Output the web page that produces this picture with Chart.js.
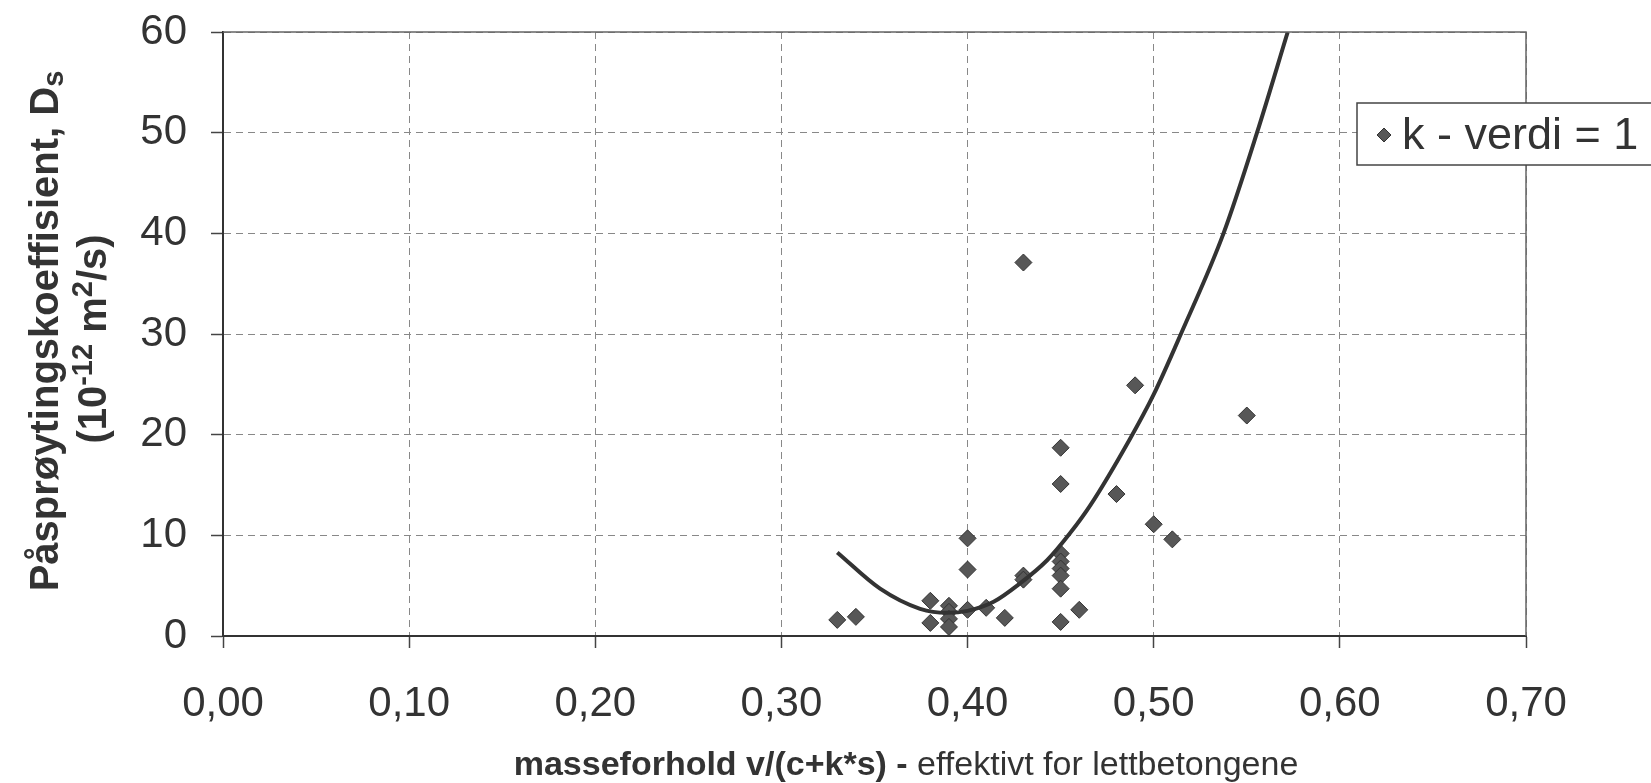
<!DOCTYPE html>
<html>
<head>
<meta charset="utf-8">
<script src="https://cdn.jsdelivr.net/npm/chart.js@4.4.0/dist/chart.umd.min.js"></script>
<style>
  html, body { margin: 0; padding: 0; background: #fff; }
  #wrap { width: 1651px; height: 783px; }
</style>
</head>
<body>
<div id="wrap"><canvas id="chart"></canvas></div>
<script>
// measured points, k = 1
const wcRatio = [0.33, 0.34, 0.38, 0.38, 0.39, 0.39, 0.39, 0.39, 0.40, 0.40, 0.40, 0.41, 0.42, 0.43, 0.43, 0.43,
                 0.45, 0.45, 0.45, 0.45, 0.45, 0.45, 0.45, 0.45, 0.46, 0.48, 0.49, 0.50, 0.51, 0.55];
const diffCoef = [1.6, 1.9, 3.5, 1.3, 3.0, 2.4, 1.7, 0.9, 9.7, 6.6, 2.6, 2.8, 1.8, 6.0, 5.6, 37.1,
                  18.7, 15.1, 8.2, 7.4, 6.7, 6.0, 4.7, 1.4, 2.6, 14.1, 24.9, 11.1, 9.6, 21.9];

// trend line
const trendRatio = [0.330, 0.353, 0.3745, 0.389, 0.400, 0.414, 0.428, 0.4426, 0.455, 0.466, 0.487, 0.500, 0.5146, 0.5375, 0.5555, 0.572];
const trendCoef  = [8.3, 4.7, 2.7, 2.3, 2.5, 3.4, 5.2, 7.5, 10.2, 13.0, 19.5, 24.0, 30.0, 40.0, 50.0, 60.0];

const seriesLabel = 'k - verdi = 1';
const xMin = 0, xMax = 0.7, xStep = 0.1;
const yMin = 0, yMax = 60, yStep = 10;

const FONT = "'Liberation Sans', Arial, Helvetica, sans-serif";
const TEXT = '#333';

const scatterPts = wcRatio.map((x, i) => ({ x: x, y: diffCoef[i] }));
const trendPts = trendRatio.map((x, i) => ({ x: x, y: trendCoef[i] }));

// draw a line of text made of runs (for sub/superscripts), centred at 0,0
function drawRuns(ctx, runs) {
    let total = 0;
    runs.forEach(r => {
        ctx.font = r.font;
        r.w = ctx.measureText(r.text).width;
        total += r.w;
    });
    let x = -total / 2;
    ctx.textAlign = 'left';
    ctx.textBaseline = 'alphabetic';
    runs.forEach(r => {
        ctx.font = r.font;
        ctx.fillText(r.text, x, r.dy || 0);
        x += r.w;
    });
}

const decorPlugin = {
    id: 'decor',
    afterDraw(chart) {
        const ctx = chart.ctx;
        const a = chart.chartArea;

        // plot frame, top and right
        ctx.save();
        ctx.strokeStyle = '#666';
        ctx.lineWidth = 1.5;
        ctx.beginPath();
        ctx.moveTo(a.left, a.top);
        ctx.lineTo(a.right, a.top);
        ctx.lineTo(a.right, a.bottom);
        ctx.stroke();
        ctx.restore();

        // y title
        const b = 'bold 40px ' + FONT;
        const bs = 'bold 29px ' + FONT;
        ctx.save();
        ctx.fillStyle = TEXT;
        ctx.translate(58, 331);
        ctx.rotate(-Math.PI / 2);
        drawRuns(ctx, [
            { text: 'Påsprøytingskoeffisient, D', font: b },
            { text: 's', font: bs, dy: 5 }
        ]);
        ctx.restore();

        ctx.save();
        ctx.fillStyle = TEXT;
        ctx.translate(106, 339);
        ctx.rotate(-Math.PI / 2);
        drawRuns(ctx, [
            { text: '(10', font: b },
            { text: '-12', font: bs, dy: -14 },
            { text: ' m', font: b },
            { text: '2', font: bs, dy: -14 },
            { text: '/s)', font: b }
        ]);
        ctx.restore();

        // x title
        ctx.save();
        ctx.fillStyle = TEXT;
        ctx.translate(906, 775);
        drawRuns(ctx, [
            { text: 'masseforhold v/(c+k*s) - ', font: 'bold 34px ' + FONT },
            { text: 'effektivt for lettbetongene', font: '34px ' + FONT }
        ]);
        ctx.restore();

        // legend box
        const ds = chart.data.datasets[1];
        ctx.save();
        ctx.fillStyle = '#fff';
        ctx.strokeStyle = '#444';
        ctx.lineWidth = 1.5;
        ctx.fillRect(1357, 103, 310, 62);
        ctx.strokeRect(1357, 103, 310, 62);
        ctx.fillStyle = ds.backgroundColor;
        ctx.strokeStyle = ds.borderColor;
        ctx.lineWidth = 1;
        ctx.beginPath();
        ctx.moveTo(1384, 128); ctx.lineTo(1391, 135); ctx.lineTo(1384, 142); ctx.lineTo(1377, 135);
        ctx.closePath();
        ctx.fill();
        ctx.stroke();
        ctx.fillStyle = TEXT;
        ctx.font = '45px ' + FONT;
        ctx.textAlign = 'left';
        ctx.textBaseline = 'middle';
        ctx.fillText(seriesLabel, 1402, 137);
        ctx.restore();
    }
};

new Chart(document.getElementById('chart'), {
    type: 'scatter',
    data: {
        datasets: [{
            label: 'trend',
            data: trendPts,
            showLine: true,
            borderColor: '#333',
            borderWidth: 4,
            pointRadius: 0,
            cubicInterpolationMode: 'monotone',
            order: 1
        }, {
            label: seriesLabel,
            data: scatterPts,
            pointStyle: 'rectRot',
            pointRadius: 8.5,
            pointHoverRadius: 8.5,
            backgroundColor: '#575757',
            borderColor: '#333',
            borderWidth: 1,
            order: 2
        }]
    },
    options: {
        responsive: true,
        maintainAspectRatio: false,
        animation: false,
        layout: { padding: { left: 0, top: 32, right: 125, bottom: 0 } },
        scales: {
            x: {
                type: 'linear',
                min: xMin, max: xMax,
                afterFit: s => { s.height = 147; s.paddingLeft = 0; s.paddingRight = 0; },
                ticks: {
                    stepSize: xStep,
                    color: TEXT,
                    padding: 31,
                    font: { family: FONT, size: 42 },
                    callback: v => v.toFixed(2).replace('.', ',')
                },
                grid: { color: '#888', lineWidth: 1, tickLength: 12, tickColor: '#444', tickWidth: 1.5 },
                border: { color: '#333', width: 2, dash: [7, 5] }
            },
            y: {
                min: yMin, max: yMax,
                afterFit: s => { s.width = 223; s.paddingTop = 0; s.paddingBottom = 0; },
                ticks: {
                    stepSize: yStep,
                    color: TEXT,
                    padding: 24,
                    font: { family: FONT, size: 42 }
                },
                grid: { color: '#888', lineWidth: 1, tickLength: 12, tickColor: '#444', tickWidth: 1.5 },
                border: { color: '#333', width: 2, dash: [7, 5] }
            }
        },
        plugins: {
            legend: { display: false },
            tooltip: { enabled: false }
        }
    },
    plugins: [decorPlugin]
});
</script>
</body>
</html>
